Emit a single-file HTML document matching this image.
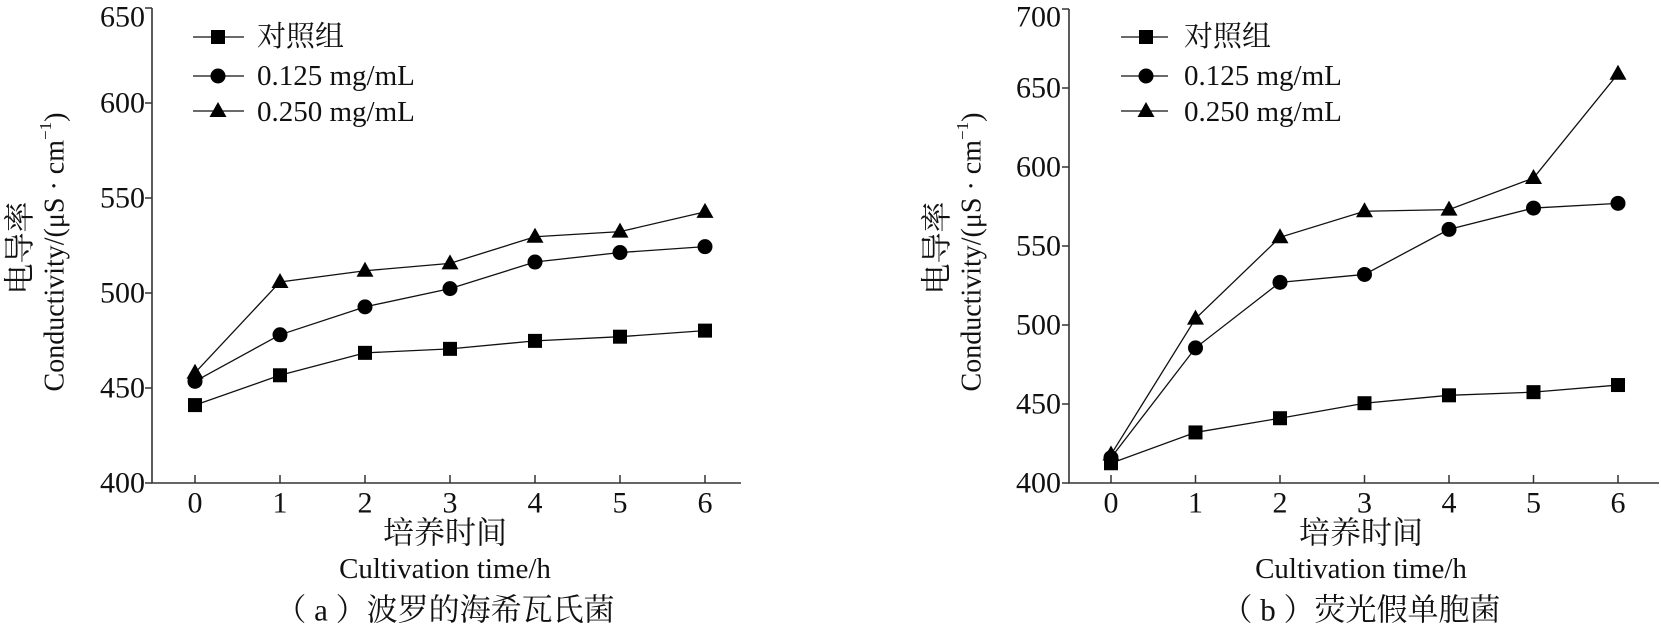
<!DOCTYPE html>
<html><head><meta charset="utf-8"><style>
html,body{margin:0;padding:0;background:#fff;}
svg{display:block;}
text{font-family:"Liberation Serif","Noto Serif CJK SC",serif;fill:#111;}
.cjk{font-family:"Liberation Serif","Noto Serif CJK SC","Noto Sans CJK SC",serif;}
</style></head><body>
<svg id="s" width="1661" height="624" viewBox="0 0 1661 624" xmlns="http://www.w3.org/2000/svg">
<g stroke="#333" stroke-width="1.6" fill="none">
<polyline points="152,8 152,483 741,483"/>
<polyline points="1069,9 1069,483 1659,483"/>
</g>
<g font-size="30" text-anchor="end" dominant-baseline="central">
<text x="145" y="17">650</text><text x="145" y="103">600</text><text x="145" y="198">550</text><text x="145" y="293">500</text><text x="145" y="388">450</text><text x="145" y="483">400</text>
<text x="1061" y="17">700</text><text x="1061" y="88">650</text><text x="1061" y="167">600</text><text x="1061" y="246">550</text><text x="1061" y="325">500</text><text x="1061" y="404">450</text><text x="1061" y="483">400</text>
</g>
<g font-size="30" text-anchor="middle" dominant-baseline="central">
<text x="195" y="503">0</text><text x="280" y="503">1</text><text x="365" y="503">2</text><text x="450" y="503">3</text><text x="535" y="503">4</text><text x="620" y="503">5</text><text x="705" y="503">6</text>
<text x="1111" y="503">0</text><text x="1195.5" y="503">1</text><text x="1280" y="503">2</text><text x="1364.5" y="503">3</text><text x="1449" y="503">4</text><text x="1533.5" y="503">5</text><text x="1618" y="503">6</text>
</g>
<g text-anchor="middle" dominant-baseline="central">
<text class="cjk" x="445" y="533" font-size="31">培养时间</text>
<text x="445" y="569" font-size="29">Cultivation time/h</text>
<text class="cjk" x="445" y="610" font-size="31">（ a ）波罗的海希瓦氏菌</text>
<text class="cjk" x="1361" y="533" font-size="31">培养时间</text>
<text x="1361" y="569" font-size="29">Cultivation time/h</text>
<text class="cjk" x="1361" y="610" font-size="31">（ b ）荧光假单胞菌</text>
</g>
<g text-anchor="middle" dominant-baseline="central" font-size="28">
<g transform="translate(20,248) rotate(-90)"><text class="cjk" x="0" y="0" font-size="31">电导率</text></g>
<g transform="translate(55,252) rotate(-90)"><text x="0" y="0">Conductivity/(μS · cm<tspan font-size="17" dy="-10">−1</tspan><tspan dy="10">)</tspan></text></g>
<g transform="translate(937,248) rotate(-90)"><text class="cjk" x="0" y="0" font-size="31">电导率</text></g>
<g transform="translate(972,252) rotate(-90)"><text x="0" y="0">Conductivity/(μS · cm<tspan font-size="17" dy="-10">−1</tspan><tspan dy="10">)</tspan></text></g>
</g>
<g font-size="29" dominant-baseline="central">
<text class="cjk" x="257" y="37">对照组</text><text x="257" y="76">0.125 mg/mL</text><text x="257" y="112">0.250 mg/mL</text>
<text class="cjk" x="1184" y="37">对照组</text><text x="1184" y="76">0.125 mg/mL</text><text x="1184" y="112">0.250 mg/mL</text>
</g>
<g id="plot"></g>
</svg>
<script>
var NS="http://www.w3.org/2000/svg",g=document.getElementById("plot");
function el(t,a){var e=document.createElementNS(NS,t);for(var k in a)e.setAttribute(k,a[k]);g.appendChild(e);return e;}
function marker(type,x,y){
 if(type==0)el("rect",{x:x-7,y:y-7,width:14,height:14,fill:"#000"});
 else if(type==1)el("circle",{cx:x,cy:y,r:7.5,fill:"#000"});
 else el("polygon",{points:(x)+","+(y-9)+" "+(x-8.5)+","+(y+6)+" "+(x+8.5)+","+(y+6),fill:"#000"});
}
for(var i=0;i<7;i++){el("line",{x1:195+85*i,y1:483,x2:195+85*i,y2:475,stroke:"#333","stroke-width":1.5});
 el("line",{x1:1111+84.5*i,y1:483,x2:1111+84.5*i,y2:475,stroke:"#333","stroke-width":1.5});}
for(var k=0;k<6;k++)el("line",{x1:145,y1:8+95*k,x2:152,y2:8+95*k,stroke:"#333","stroke-width":1.5});
for(var k=0;k<7;k++)el("line",{x1:1062,y1:9+79*k,x2:1069,y2:9+79*k,stroke:"#333","stroke-width":1.5});
var A=[[441,456.7,468.5,470.6,474.8,477,480.2],[453.5,478,492.7,502.3,516.3,521.3,524.4],[458,505.8,511.7,515.6,529.6,532.3,542.7]];
var B=[[412.5,432,441,450.5,455.5,457.5,462],[416,485.5,527,532,560.5,574,577],[418,504,555.5,572,573,593,659]];
function draw(D,x0,dx,sc){
 for(var s=0;s<3;s++){var p=[];for(var i=0;i<7;i++)p.push((x0+dx*i)+","+(483-(D[s][i]-400)*sc));
  el("polyline",{points:p.join(" "),fill:"none",stroke:"#111","stroke-width":1.3});
  for(var i=0;i<7;i++)marker(s,x0+dx*i,483-(D[s][i]-400)*sc);}
}
draw(A,195,85,1.9);draw(B,1111,84.5,1.58);
var ly=[37,76,111];
for(var s=0;s<3;s++){
 el("line",{x1:193,y1:ly[s],x2:244,y2:ly[s],stroke:"#111","stroke-width":1.3});marker(s,218,ly[s]);
 el("line",{x1:1121,y1:ly[s],x2:1168,y2:ly[s],stroke:"#111","stroke-width":1.3});marker(s,1146,ly[s]);
}
</script>
</body></html>
